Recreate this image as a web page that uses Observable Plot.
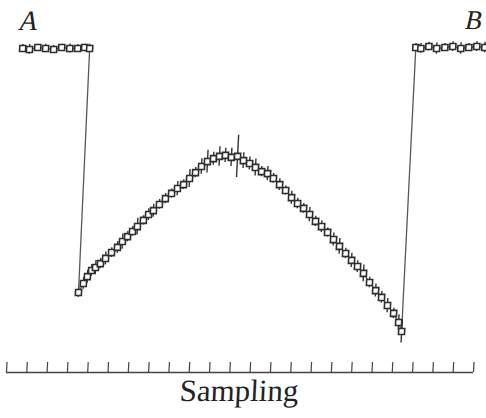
<!DOCTYPE html>
<html><head><meta charset="utf-8">
<script src="https://cdn.jsdelivr.net/npm/d3@7"></script>
<script src="https://cdn.jsdelivr.net/npm/@observablehq/plot@0.6"></script>
<style>
html,body{margin:0;padding:0;background:#fff;overflow:hidden;}
#chart svg{transform:skewX(-2.86deg);transform-origin:0 372px;}
</style></head><body><div id="chart"></div><script>
// Sampling position (arbitrary units, one unit per axis tick)
const sampling = [
  0.00,0.34,0.74,1.13,1.53,1.92,2.32,2.71,3.05,3.30,
  3.35,
  3.57,3.75,3.94,4.13,4.36,4.60,4.88,5.16,5.39,5.63,5.86,6.09,6.37,6.61,6.84,7.12,7.40,7.69,7.97,8.26,
  8.54,8.82,9.10,9.38,9.67,9.96,10.25,10.55,10.85,11.15,11.46,11.76,12.07,12.37,12.67,12.99,13.30,13.61,
  13.92,14.23,14.54,14.85,15.16,15.47,15.78,16.09,16.41,16.72,17.03,17.34,17.66,17.98,18.29,18.60,18.92,
  19.19,19.36,
  19.36,19.61,20.00,20.39,20.79,21.18,21.58,21.97,22.36,22.76,23.15
];
// Signal (relative, 0-100)
const signal = [
  99.7,99.4,100,99.7,99.4,100,99.7,99.7,100,99.7,
  24.6,
  27.4,29.5,31.4,32.3,33.5,35.1,36.9,38.5,40.3,41.8,43.4,44.9,46.8,48.6,49.8,51.7,53.5,55.1,56.6,57.8,
  59.7,61.5,63.4,64.9,65.8,66.5,66.8,66.2,66.5,65.2,64.3,63.1,61.8,61.2,59.7,57.8,56.0,53.8,
  52.0,50.5,48.6,46.5,44.9,43.1,40.9,38.8,36.6,34.5,32.6,30.5,27.7,25.2,23.1,20.6,18.2,
  15.4,12.6,
  100.0,99.7,100.3,99.7,100.0,100.3,99.7,100.0,100.3,100.0,99.7
];
// Error bar half-length (same units as signal)
const spread = [
  1.2,1.5,1.0,1.3,1.2,1.0,1.4,1.2,1.0,1.3,
  1.5,
  1.8,2.0,1.8,2.2,1.6,2.0,1.5,1.8,2.4,1.6,1.5,2.6,1.4,1.8,2.0,1.5,1.6,1.4,2.2,1.5,
  2.8,1.6,2.4,3.5,2.0,3.0,2.2,2.8,6.5,2.4,2.0,2.6,1.6,2.2,1.5,1.8,1.4,2.0,
  1.6,1.5,2.2,1.6,1.8,1.4,2.0,2.4,1.6,2.2,1.8,2.6,1.6,2.0,1.8,2.2,1.6,
  2.4,3.5,
  1.2,1.5,1.3,1.8,1.2,1.5,1.8,1.2,1.5,1.6,1.3
];
const tickPositions = [0,1,2,3,4,5,6,7,8,9,10,11,12,13,14,15,16,17,18,19,20,21,22,23];
const xLabel = "Sampling";
const endLabels = ["A", "B"];

const data = sampling.map((x, i) => ({x, y: signal[i], e: spread[i]}));
const first = data[0];
const lastVisible = data[data.length - 2];

const plot = Plot.plot({
  width: 486, height: 418,
  marginTop: 47, marginBottom: 46, marginLeft: 6, marginRight: 13,
  x: {domain: [0, 23]},
  y: {domain: [0, 100], axis: null},
  style: {background: "transparent", overflow: "visible"},
  marks: [
    Plot.ruleY([0], {stroke: "#444", strokeWidth: 1.3}),
    Plot.axisX({ticks: tickPositions, tickSize: -10, tickFormat: () => "", stroke: "#444", strokeWidth: 1.2, label: null}),
    Plot.line(data, {x: "x", y: "y", stroke: "#5e5558", strokeWidth: 1.3}),
    Plot.ruleX(data, {x: "x", y1: d => d.y - d.e, y2: d => d.y + d.e, stroke: "#333", strokeWidth: 1.4}),
    Plot.dot(data, {x: "x", y: "y", symbol: "square", r: 3.4, fill: "white", stroke: "#2e2e2e", strokeWidth: 1.6}),
    Plot.text([xLabel], {text: d => d, frameAnchor: "bottom", dy: 28, fontSize: 31, fontFamily: "Liberation Serif", fill: "#222"}),
    Plot.text([first], {x: "x", y: "y", text: () => endLabels[0], textAnchor: "start", dx: -4, dy: -27, fontSize: 28, fontStyle: "italic", fontFamily: "Liberation Serif", fill: "#222"}),
    Plot.text([lastVisible], {x: "x", y: "y", text: () => endLabels[1], textAnchor: "start", dx: -21, dy: -27, fontSize: 27, fontStyle: "italic", fontFamily: "Liberation Serif", fill: "#222"})
  ]
});
document.getElementById("chart").appendChild(plot);
</script></body></html>
